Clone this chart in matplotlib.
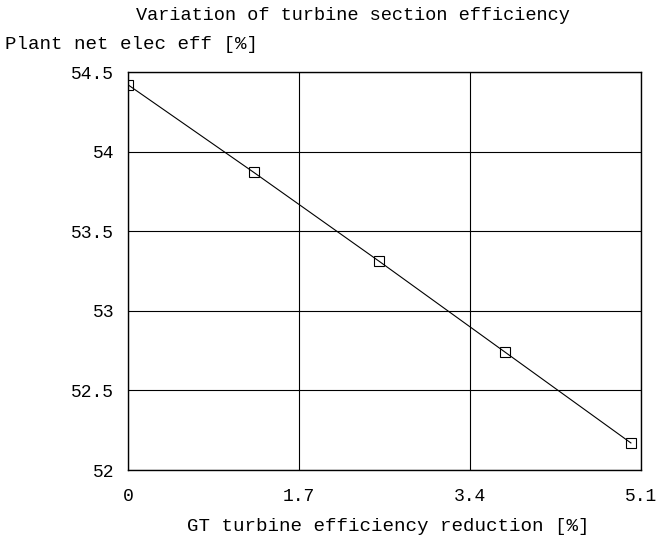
import numpy as np
import matplotlib.pyplot as plt

# Data
reduction = [0.0, 1.25, 2.5, 3.75, 5.0]
plant_eff = [54.42, 53.87, 53.31, 52.74, 52.17]
xticks = [0, 1.7, 3.4, 5.1]
xtick_labels = ['0', '1.7', '3.4', '5.1']
yticks = [52, 52.5, 53, 53.5, 54, 54.5]
ytick_labels = ['52', '52.5', '53', '53.5', '54', '54.5']

plt.rcParams['font.family'] = ['Liberation Mono', 'DejaVu Sans Mono']

fig = plt.figure(figsize=(6.58, 5.42), dpi=100)
ax = fig.add_axes([0.1945, 0.1328, 0.7796, 0.7343])

ax.plot(reduction, plant_eff, '-', color='black', lw=0.8,
        marker='s', markersize=7.5, markerfacecolor='none', markeredgewidth=0.8)

ax.set_xlim(0, 5.1)
ax.set_ylim(52, 54.5)
ax.set_xticks(xticks)
ax.set_xticklabels(xtick_labels, fontsize=13)
ax.set_yticks(yticks)
ax.set_yticklabels(ytick_labels, fontsize=13)
ax.tick_params(axis='y', length=0, pad=10)
ax.tick_params(axis='x', length=0, pad=13)
ax.grid(True, color='black', lw=0.8)
for s in ax.spines.values():
    s.set_linewidth(1.0)

fig.text(0.537, 0.972, 'Variation of turbine section efficiency', ha='center', va='center', fontsize=13.4)
fig.text(0.008, 0.918, 'Plant net elec eff [%]', ha='left', va='center', fontsize=13.8)
fig.text(0.59, 0.028, 'GT turbine efficiency reduction [%]', ha='center', va='center', fontsize=13.8)

fig.savefig('out.png', dpi=100)
